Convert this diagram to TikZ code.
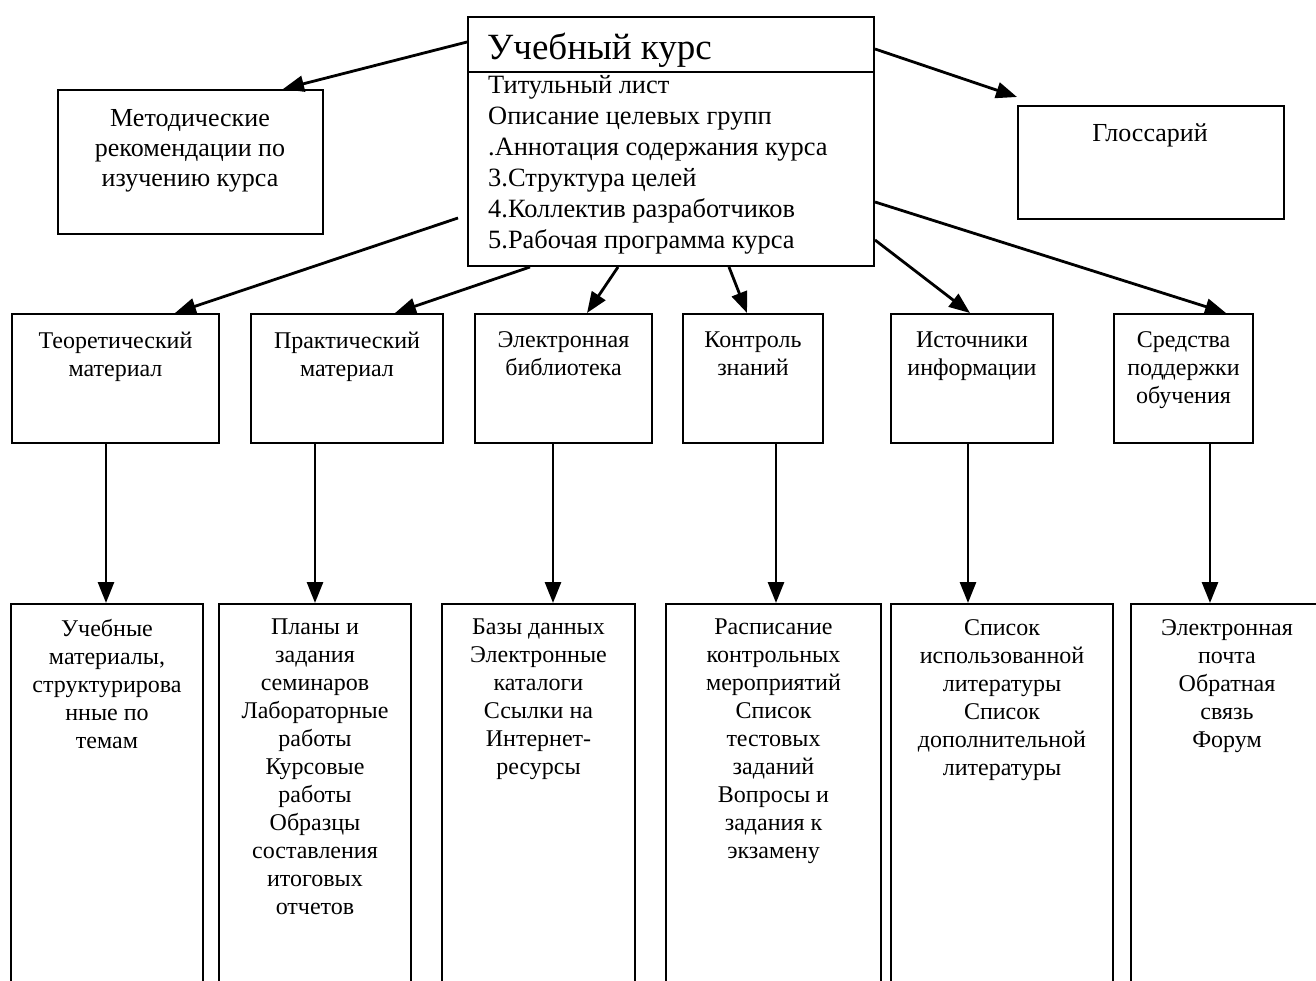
\documentclass[tikz,border=0pt]{standalone}
\usepackage{fontspec}
\setmainfont{Liberation Serif}
\usetikzlibrary{arrows.meta,calc}
\begin{document}
\begin{tikzpicture}[x=1pt,y=-1pt,
  box/.style={draw, line width=2pt, rectangle, inner sep=0pt, anchor=north west},
  arr/.style={line width=2.8pt, -{Triangle[length=21pt,width=16pt]}},
  bigtxt/.style={font=\fontsize{26}{30}\selectfont, align=center, inner sep=0pt},
  smalltxt/.style={font=\fontsize{24}{28}\selectfont, align=center, inner sep=0pt, anchor=north},
]
\clip (0,0) rectangle (1316,981);
\useasboundingbox (0,0) rectangle (1316,981);
\fill[white] (0,0) rectangle (1316,981);

% main box
\node[box, minimum width=406pt, minimum height=249pt] (main) at (467,16) {};
\draw[line width=2pt] (main.west |- 0,72) -- (main.east |- 0,72);
\node[font=\fontsize{37}{40}\selectfont, anchor=base west, inner sep=0pt] (title) at (487,60) {Учебный курс};
\node[font=\fontsize{26.4}{31}\selectfont, align=left, anchor=north west, inner sep=0pt] (items) at (488,75)
  {Титульный лист\\Описание целевых групп\\.Аннотация содержания курса\\3.Структура целей\\4.Коллектив разработчиков\\5.Рабочая программа курса};

% side boxes
\node[box, minimum width=265pt, minimum height=144pt] (met) at (57,89) {};
\node[bigtxt, anchor=north] (mett) at (190,109.5) {Методические\\рекомендации по\\изучению курса};
\node[box, minimum width=266pt, minimum height=113pt] (gl) at (1017,105) {};
\node[bigtxt, anchor=base] (glt) at (1150,141.6) {Глоссарий};

% row 2
\node[box, minimum width=207pt, minimum height=129pt] (r1) at (11,313) {};
\node[box, minimum width=192pt, minimum height=129pt] (r2) at (250,313) {};
\node[box, minimum width=177pt, minimum height=129pt] (r3) at (474,313) {};
\node[box, minimum width=140pt, minimum height=129pt] (r4) at (682,313) {};
\node[box, minimum width=162pt, minimum height=129pt] (r5) at (890,313) {};
\node[box, minimum width=139pt, minimum height=129pt] (r6) at (1113,313) {};
\node[smalltxt] (r1t) at ($(r1.north)+(0,18.5)$) {Теоретический\\материал};
\node[smalltxt] (r2t) at ($(r2.north)+(0,18.5)$) {Практический\\материал};
\node[smalltxt] (r3t) at ($(r3.north)+(0,18.5)$) {Электронная\\библиотека};
\node[smalltxt] (r4t) at ($(r4.north)+(0,18.5)$) {Контроль\\знаний};
\node[smalltxt] (r5t) at ($(r5.north)+(0,18.5)$) {Источники\\информации};
\node[smalltxt] (r6t) at ($(r6.north)+(0,18.5)$) {Средства\\поддержки\\обучения};

% row 3
\node[box, minimum width=192pt, minimum height=400pt] (c1) at (10,603) {};
\node[box, minimum width=192pt, minimum height=400pt] (c2) at (218,603) {};
\node[box, minimum width=193pt, minimum height=400pt] (c3) at (441,603) {};
\node[box, minimum width=215pt, minimum height=400pt] (c4) at (665,603) {};
\node[box, minimum width=222pt, minimum height=400pt] (c5) at (890,603) {};
\node[box, minimum width=192pt, minimum height=400pt] (c6) at (1130,603) {};
\node[smalltxt] (c1t) at ($(c1.north)+(0,16)$) {Учебные\\материалы,\\структурирова\\нные по\\темам};
\node[smalltxt] (c2t) at ($(c2.north)+(0,16)$) {Планы и\\задания\\семинаров\\Лабораторные\\работы\\Курсовые\\работы\\Образцы\\составления\\итоговых\\отчетов};
\node[smalltxt] (c3t) at ($(c3.north)+(0,16)$) {Базы данных\\Электронные\\каталоги\\Ссылки на\\Интернет-\\ресурсы};
\node[smalltxt] (c4t) at ($(c4.north)+(0,16)$) {Расписание\\контрольных\\мероприятий\\Список\\тестовых\\заданий\\Вопросы и\\задания к\\экзамену};
\node[smalltxt] (c5t) at ($(c5.north)+(0,16)$) {Список\\использованной\\литературы\\Список\\дополнительной\\литературы};
\node[smalltxt] (c6t) at ($(c6.north)+(0,16)$) {Электронная\\почта\\Обратная\\связь\\Форум};

% arrows from main box
\draw[arr] (main.west |- 0,42) -- (met.north -| 283,0);
\draw[arr] (main.east |- 0,49) -- ([yshift=8pt]gl.north west);
\draw[arr] ($(main.west |- 0,218)+(-9,0)$) -- (r1.north -| 175,0);
\draw[arr] (main.south -| 530,0) -- (r2.north -| 395,0);
\draw[arr] (main.south -| 618,0) -- (r3.north -| 587,0);
\draw[arr] (main.south -| 729,0) -- (r4.north -| 747,0);
\draw[arr] (main.east |- 0,240) -- (r5.north -| 970,0);
\draw[arr] (main.east |- 0,202) -- (r6.north -| 1226,0);

% vertical arrows
\draw[arr] (r1.south -| 106,0) -- (c1.north -| 106,0);
\draw[arr] (r2.south -| 315,0) -- (c2.north -| 315,0);
\draw[arr] (r3.south -| 553,0) -- (c3.north -| 553,0);
\draw[arr] (r4.south -| 776,0) -- (c4.north -| 776,0);
\draw[arr] (r5.south -| 968,0) -- (c5.north -| 968,0);
\draw[arr] (r6.south -| 1210,0) -- (c6.north -| 1210,0);
\end{tikzpicture}
\end{document}
